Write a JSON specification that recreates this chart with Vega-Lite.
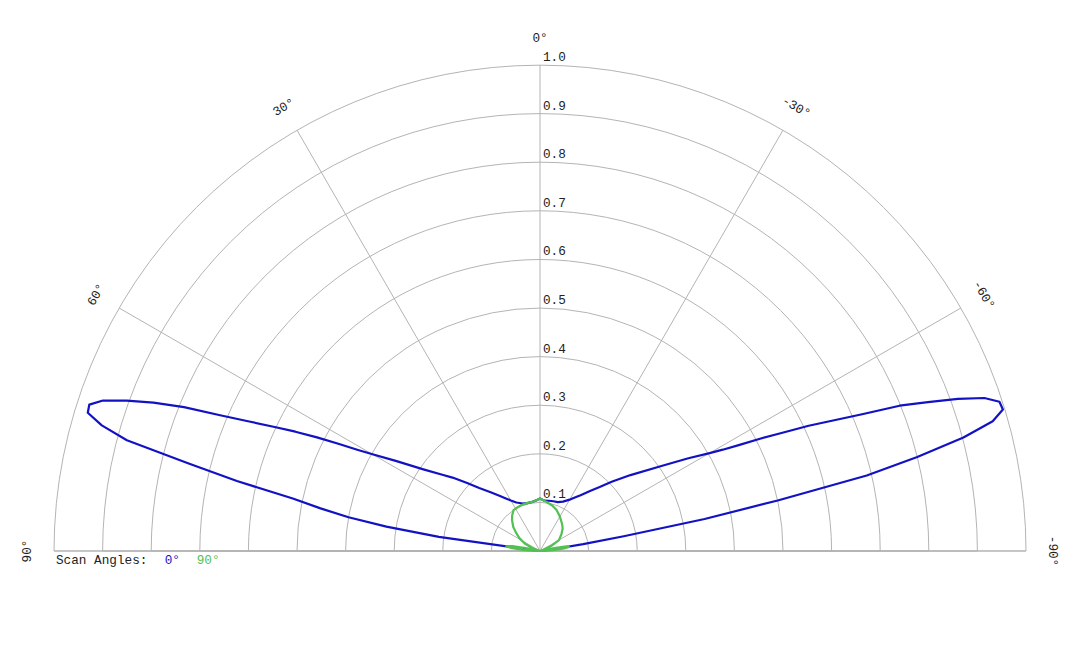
{
  "$schema": "https://vega.github.io/schema/vega-lite/v6.json",
  "width": 1080,
  "height": 648,
  "autosize": {"type": "none"},
  "padding": 0,
  "background": "white",
  "config": {
    "view": {"stroke": null},
    "text": {"font": "Liberation Mono", "fontSize": 12.7, "color": "#222"}
  },
  "datasets": {
    "rings": [
      {"r": 0.1}, {"r": 0.2}, {"r": 0.3}, {"r": 0.4}, {"r": 0.5},
      {"r": 0.6}, {"r": 0.7}, {"r": 0.8}, {"r": 0.9}, {"r": 1.0}
    ],
    "spokes": [
      {"deg": 90, "label": "90°"}, {"deg": 60, "label": "60°"}, {"deg": 30, "label": "30°"},
      {"deg": 0, "label": "0°"}, {"deg": -30, "label": "-30°"}, {"deg": -60, "label": "-60°"},
      {"deg": -90, "label": "-90°"}
    ],
    "scans": [
      {"scan": "0°", "deg": 90, "r": 0},
      {"scan": "0°", "deg": 82, "r": 0.21},
      {"scan": "0°", "deg": 81, "r": 0.32},
      {"scan": "0°", "deg": 80, "r": 0.40},
      {"scan": "0°", "deg": 79, "r": 0.46},
      {"scan": "0°", "deg": 78, "r": 0.52},
      {"scan": "0°", "deg": 77, "r": 0.64},
      {"scan": "0°", "deg": 76, "r": 0.745},
      {"scan": "0°", "deg": 75, "r": 0.88},
      {"scan": "0°", "deg": 74, "r": 0.938},
      {"scan": "0°", "deg": 73, "r": 0.973},
      {"scan": "0°", "deg": 72, "r": 0.975},
      {"scan": "0°", "deg": 71, "r": 0.951},
      {"scan": "0°", "deg": 70, "r": 0.905},
      {"scan": "0°", "deg": 69, "r": 0.852},
      {"scan": "0°", "deg": 68, "r": 0.79},
      {"scan": "0°", "deg": 67, "r": 0.715},
      {"scan": "0°", "deg": 66, "r": 0.655},
      {"scan": "0°", "deg": 65, "r": 0.605},
      {"scan": "0°", "deg": 64, "r": 0.56},
      {"scan": "0°", "deg": 63, "r": 0.515},
      {"scan": "0°", "deg": 62, "r": 0.47},
      {"scan": "0°", "deg": 61, "r": 0.43},
      {"scan": "0°", "deg": 60, "r": 0.398},
      {"scan": "0°", "deg": 58, "r": 0.35},
      {"scan": "0°", "deg": 55, "r": 0.293},
      {"scan": "0°", "deg": 52, "r": 0.255},
      {"scan": "0°", "deg": 50, "r": 0.235},
      {"scan": "0°", "deg": 47, "r": 0.205},
      {"scan": "0°", "deg": 44, "r": 0.18},
      {"scan": "0°", "deg": 40, "r": 0.158},
      {"scan": "0°", "deg": 36, "r": 0.14},
      {"scan": "0°", "deg": 33, "r": 0.129},
      {"scan": "0°", "deg": 30, "r": 0.12},
      {"scan": "0°", "deg": 26, "r": 0.111},
      {"scan": "0°", "deg": 20, "r": 0.104},
      {"scan": "0°", "deg": 15, "r": 0.102},
      {"scan": "0°", "deg": 10, "r": 0.102},
      {"scan": "0°", "deg": 5, "r": 0.104},
      {"scan": "0°", "deg": 0, "r": 0.108},
      {"scan": "0°", "deg": -5, "r": 0.104},
      {"scan": "0°", "deg": -10, "r": 0.105},
      {"scan": "0°", "deg": -15, "r": 0.106},
      {"scan": "0°", "deg": -20, "r": 0.107},
      {"scan": "0°", "deg": -25, "r": 0.112},
      {"scan": "0°", "deg": -30, "r": 0.122},
      {"scan": "0°", "deg": -32, "r": 0.128},
      {"scan": "0°", "deg": -36, "r": 0.142},
      {"scan": "0°", "deg": -40, "r": 0.162},
      {"scan": "0°", "deg": -43, "r": 0.18},
      {"scan": "0°", "deg": -46, "r": 0.205},
      {"scan": "0°", "deg": -50, "r": 0.243},
      {"scan": "0°", "deg": -55, "r": 0.305},
      {"scan": "0°", "deg": -58, "r": 0.36},
      {"scan": "0°", "deg": -60, "r": 0.403},
      {"scan": "0°", "deg": -61, "r": 0.43},
      {"scan": "0°", "deg": -62, "r": 0.465},
      {"scan": "0°", "deg": -63, "r": 0.51},
      {"scan": "0°", "deg": -64, "r": 0.555},
      {"scan": "0°", "deg": -65, "r": 0.61},
      {"scan": "0°", "deg": -66, "r": 0.66},
      {"scan": "0°", "deg": -67, "r": 0.72},
      {"scan": "0°", "deg": -68, "r": 0.798},
      {"scan": "0°", "deg": -69, "r": 0.855},
      {"scan": "0°", "deg": -70, "r": 0.915},
      {"scan": "0°", "deg": -71, "r": 0.967},
      {"scan": "0°", "deg": -72, "r": 0.994},
      {"scan": "0°", "deg": -73, "r": 0.996},
      {"scan": "0°", "deg": -74, "r": 0.969},
      {"scan": "0°", "deg": -75, "r": 0.902},
      {"scan": "0°", "deg": -76, "r": 0.80},
      {"scan": "0°", "deg": -77, "r": 0.69},
      {"scan": "0°", "deg": -78, "r": 0.50},
      {"scan": "0°", "deg": -79, "r": 0.345},
      {"scan": "0°", "deg": -80, "r": 0.175},
      {"scan": "0°", "deg": -81, "r": 0.09},
      {"scan": "0°", "deg": -82, "r": 0.03},
      {"scan": "0°", "deg": -90, "r": 0},
      {"scan": "90°", "deg": 90, "r": 0},
      {"scan": "90°", "deg": 88, "r": 0.012},
      {"scan": "90°", "deg": 86, "r": 0.035},
      {"scan": "90°", "deg": 84, "r": 0.06},
      {"scan": "90°", "deg": 82, "r": 0.07},
      {"scan": "90°", "deg": 80, "r": 0.058},
      {"scan": "90°", "deg": 78, "r": 0.03},
      {"scan": "90°", "deg": 76, "r": 0.006},
      {"scan": "90°", "deg": 72, "r": 0.004},
      {"scan": "90°", "deg": 68, "r": 0.018},
      {"scan": "90°", "deg": 64, "r": 0.035},
      {"scan": "90°", "deg": 58, "r": 0.05},
      {"scan": "90°", "deg": 53, "r": 0.061},
      {"scan": "90°", "deg": 48, "r": 0.074},
      {"scan": "90°", "deg": 42, "r": 0.086},
      {"scan": "90°", "deg": 38, "r": 0.093},
      {"scan": "90°", "deg": 33, "r": 0.1},
      {"scan": "90°", "deg": 28, "r": 0.101},
      {"scan": "90°", "deg": 22, "r": 0.102},
      {"scan": "90°", "deg": 15, "r": 0.102},
      {"scan": "90°", "deg": 8, "r": 0.1025},
      {"scan": "90°", "deg": 0, "r": 0.108},
      {"scan": "90°", "deg": -7, "r": 0.102},
      {"scan": "90°", "deg": -15, "r": 0.097},
      {"scan": "90°", "deg": -22, "r": 0.091},
      {"scan": "90°", "deg": -28, "r": 0.084},
      {"scan": "90°", "deg": -34, "r": 0.077},
      {"scan": "90°", "deg": -40, "r": 0.071},
      {"scan": "90°", "deg": -45, "r": 0.066},
      {"scan": "90°", "deg": -52, "r": 0.056},
      {"scan": "90°", "deg": -60, "r": 0.045},
      {"scan": "90°", "deg": -66, "r": 0.025},
      {"scan": "90°", "deg": -72, "r": 0.005},
      {"scan": "90°", "deg": -76, "r": 0.006},
      {"scan": "90°", "deg": -78, "r": 0.03},
      {"scan": "90°", "deg": -80, "r": 0.055},
      {"scan": "90°", "deg": -82, "r": 0.06},
      {"scan": "90°", "deg": -84, "r": 0.05},
      {"scan": "90°", "deg": -86, "r": 0.03},
      {"scan": "90°", "deg": -88, "r": 0.01},
      {"scan": "90°", "deg": -90, "r": 0}
    ]
  },
  "layer": [
    {
      "data": {"name": "rings"},
      "transform": [{"calculate": "0", "as": "cx"}],
      "mark": {
        "type": "arc",
        "theta": -1.5707963,
        "theta2": 1.5707963,
        "fillOpacity": 0,
        "stroke": "#b4b4b4",
        "strokeWidth": 1
      },
      "encoding": {
        "x": {"field": "cx", "type": "quantitative", "scale": {"domain": [-1.11111, 1.11111], "nice": false, "zero": false}, "axis": null},
        "y": {"field": "cx", "type": "quantitative", "scale": {"domain": [-0.19959, 1.13374], "nice": false, "zero": false}, "axis": null},
        "radius": {"field": "r", "type": "quantitative", "stack": null, "scale": {"type": "linear", "domain": [0, 1], "range": [0, 486]}}
      }
    },
    {
      "data": {"name": "spokes"},
      "transform": [
        {"calculate": "0", "as": "cx"},
        {"calculate": "-sin(datum.deg * PI / 180)", "as": "ex"},
        {"calculate": "cos(datum.deg * PI / 180)", "as": "ey"}
      ],
      "mark": {"type": "rule", "stroke": "#b4b4b4", "strokeWidth": 1},
      "encoding": {
        "x": {"field": "cx", "type": "quantitative"},
        "y": {"field": "cx", "type": "quantitative"},
        "x2": {"field": "ex"},
        "y2": {"field": "ey"}
      }
    },
    {
      "data": {"name": "rings"},
      "transform": [{"calculate": "0", "as": "cx"}],
      "mark": {"type": "text", "align": "left", "baseline": "alphabetic", "dx": 3, "dy": -4},
      "encoding": {
        "x": {"field": "cx", "type": "quantitative"},
        "y": {"field": "r", "type": "quantitative"},
        "text": {"field": "r", "type": "quantitative", "format": ".1f"}
      }
    },
    {
      "data": {"name": "spokes"},
      "transform": [
        {"calculate": "-1.055 * sin(datum.deg * PI / 180)", "as": "lx"},
        {"calculate": "1.055 * cos(datum.deg * PI / 180)", "as": "ly"}
      ],
      "mark": {"type": "text", "align": "center", "baseline": "middle"},
      "encoding": {
        "x": {"field": "lx", "type": "quantitative"},
        "y": {"field": "ly", "type": "quantitative"},
        "angle": {"field": "deg", "type": "quantitative", "scale": {"domain": [-90, 90], "range": [90, -90]}},
        "text": {"field": "label"}
      }
    },
    {
      "data": {"name": "scans"},
      "transform": [
        {"calculate": "-datum.r * sin(datum.deg * PI / 180)", "as": "px"},
        {"calculate": "datum.r * cos(datum.deg * PI / 180)", "as": "py"}
      ],
      "mark": {"type": "line", "strokeWidth": 2.2, "strokeJoin": "round"},
      "encoding": {
        "x": {"field": "px", "type": "quantitative"},
        "y": {"field": "py", "type": "quantitative"},
        "order": {"field": "deg", "type": "quantitative"},
        "color": {
          "field": "scan",
          "type": "nominal",
          "scale": {"domain": ["0°", "90°"], "range": ["#1212c4", "#52c152"]},
          "legend": {
            "orient": "none",
            "legendX": 56,
            "legendY": 553,
            "direction": "horizontal",
            "title": "Scan Angles:",
            "titleOrient": "left",
            "titleFont": "Liberation Mono",
            "titleFontSize": 12.7,
            "titleFontWeight": "normal",
            "titleColor": "#222",
            "labelFont": "Liberation Mono",
            "labelFontSize": 12.7,
            "symbolType": "circle",
            "symbolSize": 0,
            "symbolStrokeWidth": 0,
            "symbolOpacity": 0,
            "labelOffset": 0,
            "columnPadding": 4,
            "titlePadding": 4,
            "encode": {"labels": {"update": {"fill": {"scale": "color", "field": "value"}}}}
          }
        }
      }
    }
  ]
}
